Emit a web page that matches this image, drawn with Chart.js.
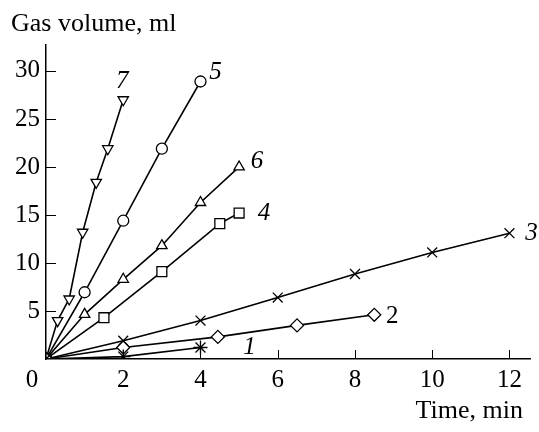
<!DOCTYPE html>
<html>
<head>
<meta charset="utf-8">
<script src="https://cdn.jsdelivr.net/npm/chart.js@4.4.1/dist/chart.umd.min.js"></script>
<style>
  html, body { margin: 0; padding: 0; background: #fff; }
  #wrap { width: 539px; height: 432px; position: relative; }
</style>
</head>
<body>
<div id="wrap"><canvas id="c"></canvas></div>
<script>
// Datos (tiempo en min, volumen en ml)
const t1 = [0, 2, 4]
const v1 = [0, 0.25, 1.2]
const t2 = [0, 2, 4.45, 6.5, 8.5]
const v2 = [0, 1.2, 2.3, 3.5, 4.6]
const t3 = [0, 2, 4, 6, 8, 10, 12]
const v3 = [0, 1.9, 4.0, 6.4, 8.85, 11.1, 13.1]
const t4 = [0, 1.5, 3, 4.5, 5]
const v4 = [0, 4.3, 9.1, 14.1, 15.2]
const t5 = [0, 1, 2, 3, 4]
const v5 = [0, 6.95, 14.4, 21.9, 28.9]
const t6 = [0, 1, 2, 3, 4, 5]
const v6 = [0, 4.65, 8.3, 11.8, 16.3, 20.0]
const t7 = [0, 0.3, 0.6, 0.95, 1.3, 1.6, 2.0]
const v7 = [0, 4.0, 6.25, 13.2, 18.4, 21.9, 27.0]

const curveLabels = ['1', '2', '3', '4', '5', '6', '7']
const xTicks = [0, 2, 4, 6, 8, 10, 12]
const yTicks = [5, 10, 15, 20, 25, 30]

const series = [
    { t: t1, v: v1, style: 'star', rot: 0, r: 7 },
    { t: t2, v: v2, style: 'rectRot', rot: 0, r: 6.5 },
    { t: t3, v: v3, style: 'crossRot', rot: 0, r: 7 },
    { t: t4, v: v4, style: 'rect', rot: 0, r: 7 },
    { t: t5, v: v5, style: 'circle', rot: 0, r: 5.5 },
    { t: t6, v: v6, style: 'triangle', rot: 0, r: 6 },
    { t: t7, v: v7, style: 'triangle', rot: 180, r: 6 }
]

// posiciones de las etiquetas de curva (desplazamiento respecto al último punto)
const labelOffsets = [[49, 0], [18, 2], [22, 0], [25, 0], [15, -9], [18, -6], [-1, -18]]

const datasets = series.map((s, i) => ({
    label: curveLabels[i],
    data: s.t.map((x, k) => ({ x, y: s.v[k] })),
    showLine: true,
    borderColor: '#000',
    borderWidth: 1.6,
    pointStyle: s.style,
    rotation: s.rot,
    pointRadius: s.r,
    pointBackgroundColor: '#fff',
    pointBorderColor: '#000',
    pointBorderWidth: 1.3,
    fill: false
}))

const serif = '"Liberation Serif", "Times New Roman", serif'

// Plugin: ticks hacia dentro, etiquetas de curvas y títulos de ejes
const extras = {
    id: 'extras',
    afterDraw(chart) {
        const { ctx, scales: { x, y }, chartArea } = chart
        ctx.save()
        ctx.strokeStyle = '#000'
        ctx.lineWidth = 1
        xTicks.slice(1).forEach(v => {
            const px = Math.round(x.getPixelForValue(v)) + 0.5
            ctx.beginPath(); ctx.moveTo(px, chartArea.bottom); ctx.lineTo(px, chartArea.bottom - 9); ctx.stroke()
        })
        yTicks.forEach(v => {
            const py = Math.round(y.getPixelForValue(v)) + 0.5
            ctx.beginPath(); ctx.moveTo(chartArea.left, py); ctx.lineTo(chartArea.left + 10, py); ctx.stroke()
        })
        ctx.fillStyle = '#000'
        ctx.textBaseline = 'middle'
        ctx.textAlign = 'center'
        ctx.font = '25px ' + serif
        ctx.fillText('0', 32, 380)
        series.forEach((s, i) => {
            const n = s.t.length - 1
            const px = x.getPixelForValue(s.t[n]) + labelOffsets[i][0]
            const py = y.getPixelForValue(s.v[n]) + labelOffsets[i][1]
            ctx.font = (i === 1 ? '' : 'italic ') + '25px ' + serif
            ctx.fillText(curveLabels[i], px, py)
        })
        ctx.font = '26px ' + serif
        ctx.textAlign = 'left'
        ctx.fillText('Gas volume, ml', 11, 24)
        ctx.textAlign = 'right'
        ctx.fillText('Time, min', 523, 411)
        ctx.restore()
    }
}

new Chart(document.getElementById('c'), {
    type: 'scatter',
    data: { datasets },
    options: {
        responsive: true,
        maintainAspectRatio: false,
        animation: false,
        layout: { padding: { top: 45, right: 1, left: 0, bottom: 0 } },
        plugins: { legend: { display: false }, tooltip: { enabled: false } },
        scales: {
            x: {
                type: 'linear', min: 0, max: 12.55,
                afterFit: s => { s.height = 73 },
                afterBuildTicks: s => { s.ticks = xTicks.slice(1).map(v => ({ value: v })) },
                grid: { display: false, drawTicks: false },
                border: { display: true, color: '#000', width: 1.5 },
                ticks: { color: '#000', padding: 6, maxRotation: 0, font: { family: serif, size: 25 } }
            },
            y: {
                type: 'linear', min: 0, max: 32.7,
                afterFit: s => { s.width = 46 },
                afterBuildTicks: s => { s.ticks = yTicks.map(v => ({ value: v })) },
                grid: { display: false, drawTicks: false },
                border: { display: true, color: '#000', width: 1.5 },
                ticks: { color: '#000', padding: 6, font: { family: serif, size: 25 } }
            }
        }
    },
    plugins: [extras]
})
</script>
</body>
</html>
